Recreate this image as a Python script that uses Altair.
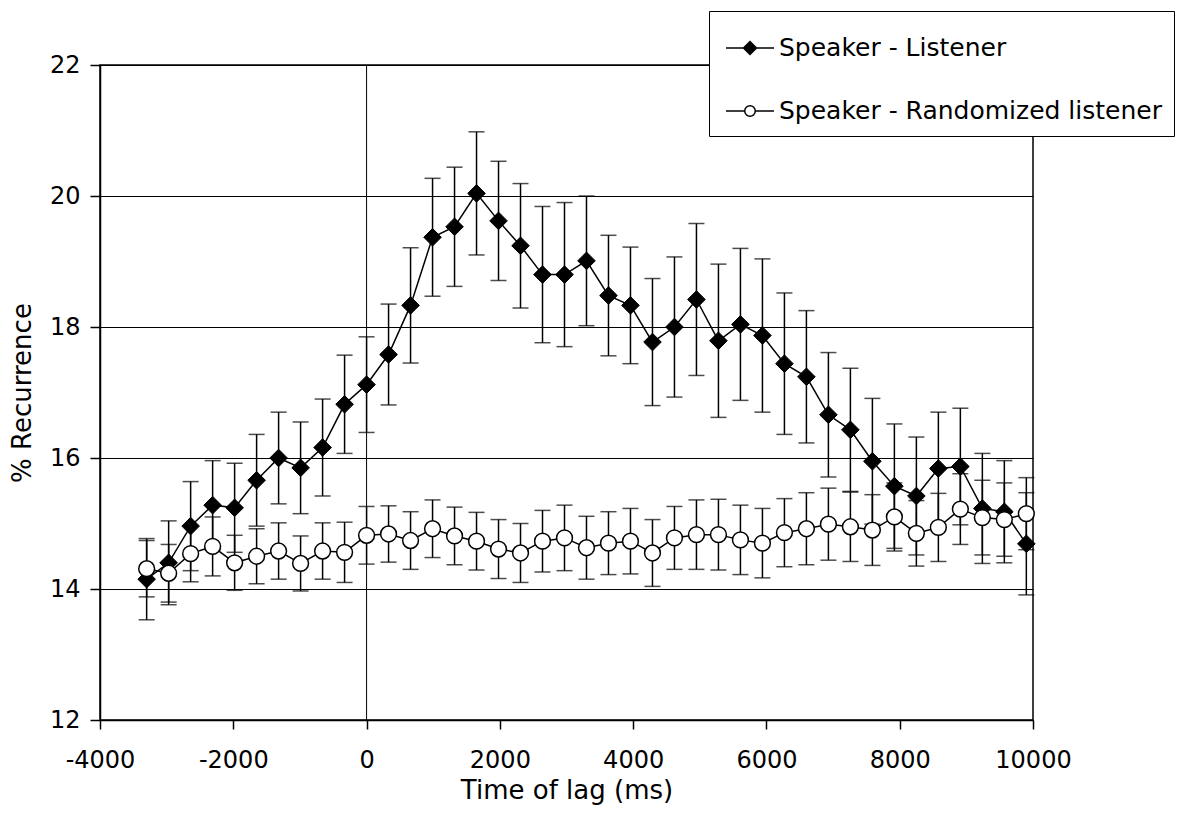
import altair as alt
import pandas as pd

# ---- data ----
lag = [-3300, -2970, -2640, -2310, -1980, -1650, -1320, -990, -660, -330,
       0, 330, 660, 990, 1320, 1650, 1980, 2310, 2640, 2970,
       3300, 3630, 3960, 4290, 4620, 4950, 5280, 5610, 5940, 6270,
       6600, 6930, 7260, 7590, 7920, 8250, 8580, 8910, 9240, 9570, 9900]

listener_mean = [14.15, 14.40, 14.96, 15.28, 15.24, 15.66, 16.00, 15.85, 16.16, 16.82,
                 17.12, 17.58, 18.33, 19.37, 19.53, 20.04, 19.62, 19.24, 18.80, 18.80,
                 19.01, 18.48, 18.33, 17.77, 18.00, 18.42, 17.79, 18.04, 17.87, 17.44,
                 17.24, 16.66, 16.43, 15.95, 15.57, 15.42, 15.84, 15.87, 15.23, 15.18, 14.69]
listener_err = [0.62, 0.64, 0.68, 0.68, 0.68, 0.70, 0.70, 0.70, 0.74, 0.75,
                0.73, 0.77, 0.88, 0.90, 0.91, 0.94, 0.91, 0.95, 1.04, 1.10,
                0.99, 0.92, 0.89, 0.97, 1.07, 1.16, 1.17, 1.16, 1.17, 1.08,
                1.01, 0.95, 0.94, 0.96, 0.95, 0.90, 0.86, 0.89, 0.84, 0.78, 0.78]

random_mean = [14.31, 14.24, 14.54, 14.65, 14.40, 14.50, 14.58, 14.39, 14.58, 14.56,
               14.82, 14.84, 14.74, 14.92, 14.81, 14.73, 14.61, 14.55, 14.73, 14.78,
               14.63, 14.70, 14.73, 14.55, 14.78, 14.83, 14.83, 14.75, 14.70, 14.86,
               14.92, 14.99, 14.95, 14.90, 15.10, 14.85, 14.94, 15.22, 15.09, 15.06, 15.15]
random_err = [0.43, 0.44, 0.43, 0.45, 0.42, 0.42, 0.43, 0.42, 0.43, 0.46,
              0.44, 0.43, 0.44, 0.44, 0.44, 0.44, 0.45, 0.45, 0.47, 0.50,
              0.48, 0.48, 0.50, 0.51, 0.48, 0.53, 0.54, 0.53, 0.53, 0.52,
              0.55, 0.55, 0.53, 0.54, 0.52, 0.50, 0.52, 0.54, 0.57, 0.56, 0.55]

series_names = ["Speaker - Listener", "Speaker - Randomized listener"]
x_ticks = [-4000, -2000, 0, 2000, 4000, 6000, 8000, 10000]
y_ticks = [12, 14, 16, 18, 20, 22]
zero_line = [0]

rows = []
for name, means, errs in [(series_names[0], listener_mean, listener_err),
                          (series_names[1], random_mean, random_err)]:
    for t, m, e in zip(lag, means, errs):
        rows.append({"series": name, "lag": t, "mean": m, "lo": m - e, "hi": m + e})
df = pd.DataFrame(rows)

FONT = "DejaVu Sans"
LABEL_EXPR = "datum.value < 0 ? '-' + format(-datum.value, 'd') : format(datum.value, 'd')"

x_axis = alt.Axis(values=x_ticks, title="Time of lag (ms)", grid=False, tickSize=9,
                  labelPadding=19, titlePadding=5, labelFlush=False, labelExpr=LABEL_EXPR)
y_axis = alt.Axis(values=y_ticks, title="% Recurrence", grid=True, gridColor="black",
                  gridWidth=1, gridOpacity=1, tickSize=10, labelPadding=10, titlePadding=14,
                  labelExpr=LABEL_EXPR)

xs = alt.Scale(domain=[-4000, 10000], nice=False, zero=False)
ys = alt.Scale(domain=[12, 22], nice=False, zero=False)


def X(field="lag"):
    return alt.X(f"{field}:Q", scale=xs, axis=x_axis, title="Time of lag (ms)")


def Y(field):
    return alt.Y(f"{field}:Q", scale=ys, axis=y_axis, title="% Recurrence")


base = alt.Chart(df)

zero_rule = alt.Chart(pd.DataFrame({"lag": zero_line})).mark_rule(
    color="black", strokeWidth=1).encode(x=X())

err_rule = base.mark_rule(color="black", strokeWidth=1.5).encode(
    x=X(), y=Y("lo"), y2="hi:Q")
cap_lo = base.mark_tick(color="black", orient="horizontal", size=16, thickness=1.5).encode(
    x=X(), y=Y("lo"))
cap_hi = base.mark_tick(color="black", orient="horizontal", size=16, thickness=1.5).encode(
    x=X(), y=Y("hi"))

lines = base.mark_line(color="black", strokeWidth=1.5).encode(
    x=X(), y=Y("mean"), detail="series:N")

diamonds = base.transform_filter(alt.datum.series == series_names[0]).mark_point(
    shape="diamond", filled=True, fill="black", stroke="black", strokeWidth=1,
    size=310, opacity=1).encode(x=X(), y=Y("mean"))

circles = base.transform_filter(alt.datum.series == series_names[1]).mark_point(
    shape="circle", filled=True, fill="white", stroke="black", strokeWidth=1.5,
    size=250, opacity=1).encode(x=X(), y=Y("mean"))

diamond_path = "M-1,0L1,0M0,-0.27L0.27,0L0,0.27L-0.27,0Z"
circle_path = ("M-1,0L-0.22,0M0.22,0L1,0M0.22,0A0.22,0.22,0,1,1,-0.22,0"
               "A0.22,0.22,0,1,1,0.22,0Z")

leg = alt.Legend(title=None, orient="none", legendX=609, legendY=-54,
                 strokeColor="black", fillColor="white",
                 padding=12, rowPadding=25, symbolSize=2304, symbolStrokeWidth=1.5,
                 symbolOffset=4, labelOffset=4, labelFont=FONT, labelFontSize=25,
                 labelColor="black", labelLimit=500, symbolStrokeColor="black")

legend_layer = base.transform_filter("false").mark_point(
    filled=True, strokeWidth=1.5, opacity=1).encode(
    x=X(), y=Y("mean"),
    shape=alt.Shape("series:N", scale=alt.Scale(domain=series_names,
                                                range=[diamond_path, circle_path]),
                    legend=leg),
    fill=alt.Fill("series:N", scale=alt.Scale(domain=series_names,
                                              range=["black", "white"]),
                  legend=leg),
    stroke=alt.Stroke("series:N", scale=alt.Scale(domain=series_names,
                                                  range=["black", "black"]),
                      legend=leg),
)

chart = alt.layer(zero_rule, err_rule, cap_lo, cap_hi, lines, diamonds, circles,
                  legend_layer).properties(
    width=933, height=655,
    autosize=alt.AutoSizeParams(type="none"),
    padding={"left": 92, "top": 57, "right": 142, "bottom": 85},
    background="white",
).configure_view(stroke="black", strokeWidth=1.5).configure_axis(
    domainColor="black", domainWidth=1.5, tickColor="black", tickWidth=1.5,
    labelFont=FONT, labelFontSize=24, labelColor="black",
    titleFont=FONT, titleFontSize=26, titleFontWeight="normal", titleColor="black",
)

chart.save("out.html", embed_options={"renderer": "svg", "actions": False})
